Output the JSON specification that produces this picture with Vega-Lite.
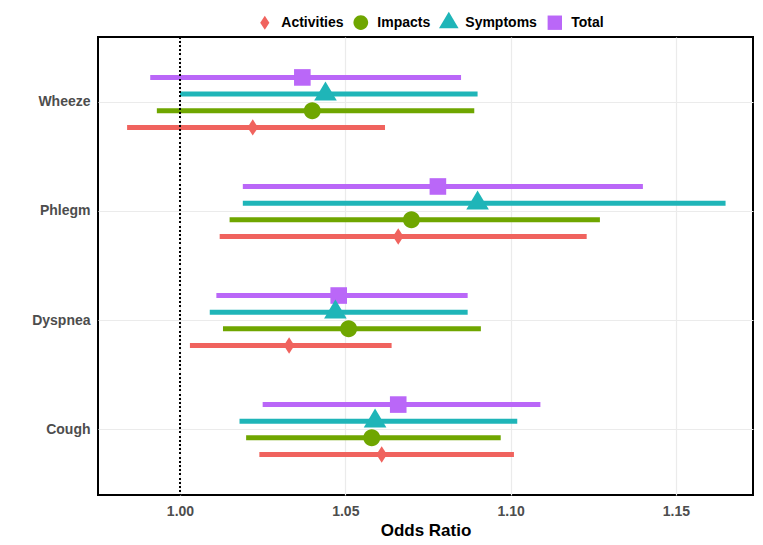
{
  "$schema": "https://vega.github.io/schema/vega-lite/v6.json",
  "width": 655,
  "height": 458,
  "autosize": {"type": "none"},
  "padding": {"left": 98, "top": 37, "right": 10, "bottom": 50},
  "config": {
    "font": "Liberation Sans",
    "view": {"stroke": "black", "strokeWidth": 2},
    "axis": {
      "grid": true,
      "gridColor": "#EBEBEB",
      "gridWidth": 1.2,
      "domain": false,
      "ticks": false,
      "labelFont": "Liberation Sans",
      "labelFontWeight": "bold",
      "labelColor": "#4D4D4D",
      "labelFontSize": 14
    }
  },
  "data": {
    "values": [
      {"symptom": "Wheeze", "group": "Total", "or": 1.037, "lo": 0.991, "hi": 1.085},
      {"symptom": "Wheeze", "group": "Symptoms", "or": 1.044, "lo": 1.000, "hi": 1.090},
      {"symptom": "Wheeze", "group": "Impacts", "or": 1.040, "lo": 0.993, "hi": 1.089},
      {"symptom": "Wheeze", "group": "Activities", "or": 1.022, "lo": 0.984, "hi": 1.062},
      {"symptom": "Phlegm", "group": "Total", "or": 1.078, "lo": 1.019, "hi": 1.140},
      {"symptom": "Phlegm", "group": "Symptoms", "or": 1.090, "lo": 1.019, "hi": 1.165},
      {"symptom": "Phlegm", "group": "Impacts", "or": 1.070, "lo": 1.015, "hi": 1.127},
      {"symptom": "Phlegm", "group": "Activities", "or": 1.066, "lo": 1.012, "hi": 1.123},
      {"symptom": "Dyspnea", "group": "Total", "or": 1.048, "lo": 1.011, "hi": 1.087},
      {"symptom": "Dyspnea", "group": "Symptoms", "or": 1.047, "lo": 1.009, "hi": 1.087},
      {"symptom": "Dyspnea", "group": "Impacts", "or": 1.051, "lo": 1.013, "hi": 1.091},
      {"symptom": "Dyspnea", "group": "Activities", "or": 1.033, "lo": 1.003, "hi": 1.064},
      {"symptom": "Cough", "group": "Total", "or": 1.066, "lo": 1.025, "hi": 1.109},
      {"symptom": "Cough", "group": "Symptoms", "or": 1.059, "lo": 1.018, "hi": 1.102},
      {"symptom": "Cough", "group": "Impacts", "or": 1.058, "lo": 1.020, "hi": 1.097},
      {"symptom": "Cough", "group": "Activities", "or": 1.061, "lo": 1.024, "hi": 1.101}
    ]
  },
  "encoding": {
    "y": {
      "field": "symptom",
      "type": "nominal",
      "sort": ["Wheeze", "Phlegm", "Dyspnea", "Cough"],
      "scale": {"paddingInner": 0, "paddingOuter": 0.1},
      "axis": {"title": null, "labelPadding": 8}
    },
    "yOffset": {
      "field": "group",
      "type": "nominal",
      "sort": ["Total", "Symptoms", "Impacts", "Activities"],
      "scale": {"range": [21.2, 87.8], "paddingInner": 0, "paddingOuter": 0}
    },
    "color": {
      "field": "group",
      "type": "nominal",
      "scale": {
        "domain": ["Activities", "Impacts", "Symptoms", "Total"],
        "range": ["#F0635E", "#6FA600", "#1FB5B8", "#BA67F8"]
      },
      "legend": {
        "title": null,
        "orient": "none",
        "direction": "horizontal",
        "legendX": 157.8,
        "legendY": -23.7,
        "padding": 0,
        "symbolSize": 300,
        "symbolStrokeWidth": 0,
        "labelOffset": 7.5,
        "columnPadding": 8,
        "labelFont": "Liberation Sans",
        "labelFontSize": 14,
        "labelFontWeight": "bold",
        "labelColor": "black"
      }
    }
  },
  "layer": [
    {
      "mark": {"type": "rule", "strokeWidth": 5},
      "encoding": {
        "x": {
          "field": "lo",
          "type": "quantitative",
          "scale": {"domain": [0.9752, 1.1733], "nice": false, "zero": false},
          "axis": {
            "title": "Odds Ratio",
            "values": [1, 1.05, 1.1, 1.15],
            "format": ".2f",
            "labelPadding": 9,
            "titlePadding": 4,
            "titleFont": "Liberation Sans",
            "titleFontSize": 17,
            "titleFontWeight": "bold",
            "titleColor": "black"
          }
        },
        "x2": {"field": "hi"}
      }
    },
    {
      "mark": {"type": "point", "filled": true, "size": 400, "opacity": 1, "strokeWidth": 0},
      "encoding": {
        "x": {"field": "or", "type": "quantitative"},
        "shape": {
          "field": "group",
          "type": "nominal",
          "scale": {
            "domain": ["Activities", "Impacts", "Symptoms", "Total"],
            "range": [
              "M-0.53,0L0,-0.82L0.53,0L0,0.82Z",
              "M-0.85,0A0.85,0.85,0,1,0,0.85,0A0.85,0.85,0,1,0,-0.85,0Z",
              "M0,-1.27L1.13,0.63L-1.13,0.63Z",
              "M-0.83,-0.83L0.83,-0.83L0.83,0.83L-0.83,0.83Z"
            ]
          },
          "legend": {
            "title": null,
            "orient": "none",
            "direction": "horizontal",
            "legendX": 157.8,
            "legendY": -23.7,
            "padding": 0,
            "symbolSize": 300,
            "symbolStrokeWidth": 0,
            "labelOffset": 7.5,
            "columnPadding": 8,
            "labelFont": "Liberation Sans",
            "labelFontSize": 14,
            "labelFontWeight": "bold",
            "labelColor": "black"
          }
        }
      }
    },
    {
      "mark": {"type": "rule", "strokeDash": [1.2, 3], "strokeWidth": 1.5, "color": "black"},
      "encoding": {"x": {"datum": 1}, "y": null, "yOffset": null, "color": null}
    }
  ]
}
